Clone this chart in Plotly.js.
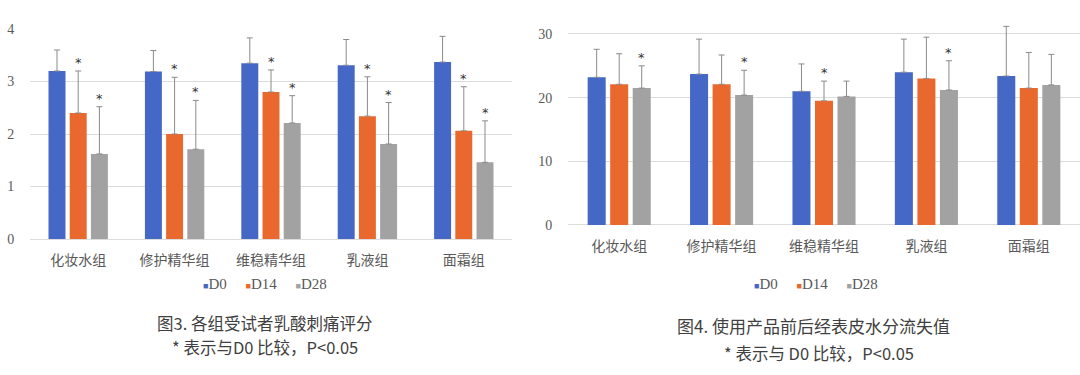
<!DOCTYPE html>
<html>
<head>
<meta charset="utf-8">
<script src="https://cdn.plot.ly/plotly-3.0.1.min.js"></script>
<style>html,body{margin:0;padding:0;background:#fff;}#chart{width:1080px;height:375px;}</style>
</head>
<body>
<div id="chart"></div>
<script>
// ---- data ----
const categories = ['化妆水组', '修护精华组', '维稳精华组', '乳液组', '面霜组'];
const seriesNames = ['D0', 'D14', 'D28'];

// Fig 3: lactic acid sting score
const stingD0 = [3.20, 3.19, 3.35, 3.31, 3.37];
const stingD14 = [2.40, 2.00, 2.80, 2.34, 2.06];
const stingD28 = [1.62, 1.71, 2.21, 1.81, 1.46];
const stingErrD0 = [0.40, 0.40, 0.48, 0.49, 0.49];
const stingErrD14 = [0.80, 1.08, 0.42, 0.75, 0.84];
const stingErrD28 = [0.90, 0.93, 0.52, 0.79, 0.79];
const stingSigD0 = [false, false, false, false, false];
const stingSigD14 = [true, true, true, true, true];
const stingSigD28 = [true, true, true, true, true];

// Fig 4: TEWL
const tewlD0 = [23.2, 23.7, 21.0, 24.0, 23.4];
const tewlD14 = [22.1, 22.1, 19.5, 23.0, 21.5];
const tewlD28 = [21.5, 20.4, 20.2, 21.2, 22.0];
const tewlErrD0 = [4.4, 5.5, 4.3, 5.2, 7.8];
const tewlErrD14 = [4.8, 4.6, 3.1, 6.5, 5.6];
const tewlErrD28 = [3.5, 3.9, 2.4, 4.6, 4.8];
const tewlSigD0 = [false, false, false, false, false];
const tewlSigD14 = [false, false, true, false, false];
const tewlSigD28 = [true, true, false, true, false];

const stingTicks = [0, 1, 2, 3, 4];
const tewlTicks = [0, 10, 20, 30];

const caption3 = '图3. 各组受试者乳酸刺痛评分';
const caption4 = '图4. 使用产品前后经表皮水分流失值';
const note = '* 表示与D0 比较，P<0.05';
const note4 = '* 表示与 D0 比较，P<0.05';

// ---- styling ----
const colors = ['#4567c6', '#e8682d', '#a2a2a2'];
const errColor = '#8a8a8a';
const gridColor = '#dcdcdc';
const textColor = '#595959';
const serif = 'Liberation Serif, Times New Roman, serif';
const cjk = 'Noto Sans CJK SC, sans-serif';
const bargap = 0.34;

const stingVals = [stingD0, stingD14, stingD28];
const stingErrs = [stingErrD0, stingErrD14, stingErrD28];
const stingSigs = [stingSigD0, stingSigD14, stingSigD28];
const tewlVals = [tewlD0, tewlD14, tewlD28];
const tewlErrs = [tewlErrD0, tewlErrD14, tewlErrD28];
const tewlSigs = [tewlSigD0, tewlSigD14, tewlSigD28];

const traces = [];
const annotations = [];
const slot = (1 - bargap) / 3;

function addChart(vals, errs, sigs, xa, ya) {
  vals.forEach((v, k) => {
    traces.push({
      type: 'bar', x: categories, y: v, name: seriesNames[k],
      xaxis: xa, yaxis: ya, showlegend: false,
      marker: {color: colors[k], line: {width: 0}},
      error_y: {type: 'data', array: errs[k], arrayminus: errs[k].map(() => 0), symmetric: false,
                color: errColor, thickness: 1, width: 3},
      hoverinfo: 'none'
    });
    v.forEach((val, i) => {
      if (sigs[k][i]) {
        annotations.push({
          xref: xa, yref: ya, x: i + (k - 1) * slot, y: val + errs[k][i],
          text: '*', showarrow: false, yanchor: 'bottom', yshift: -1,
          font: {family: 'DejaVu Sans, sans-serif', size: 13, color: '#333'}
        });
      }
    });
  });
}
addChart(stingVals, stingErrs, stingSigs, 'x', 'y');
addChart(tewlVals, tewlErrs, tewlSigs, 'x2', 'y2');

function legendText() {
  return seriesNames.map((n, k) =>
    `<span style="color:${colors[k]};font-size:9px">■</span>${n}`).join('&nbsp;&nbsp;&nbsp;&nbsp;&nbsp;');
}
const legFont = {family: serif, size: 15, color: textColor};
annotations.push({xref: 'paper', yref: 'paper', x: 265 / 1080, y: 1 - 284 / 375, text: legendText(),
  showarrow: false, xanchor: 'center', yanchor: 'middle', font: legFont});
annotations.push({xref: 'paper', yref: 'paper', x: 816 / 1080, y: 1 - 284 / 375, text: legendText(),
  showarrow: false, xanchor: 'center', yanchor: 'middle', font: legFont});

const capFont = {family: cjk, size: 16.5, color: '#404040'};
const capFont4 = {family: cjk, size: 17, color: '#404040'};
annotations.push({xref: 'paper', yref: 'paper', x: 264 / 1080, y: 1 - 323 / 375, text: caption3,
  showarrow: false, xanchor: 'center', yanchor: 'middle', font: capFont});
annotations.push({xref: 'paper', yref: 'paper', x: 265 / 1080, y: 1 - 347 / 375, text: note,
  showarrow: false, xanchor: 'center', yanchor: 'middle', font: capFont});
annotations.push({xref: 'paper', yref: 'paper', x: 813 / 1080, y: 1 - 325 / 375, text: caption4,
  showarrow: false, xanchor: 'center', yanchor: 'middle', font: capFont4});
annotations.push({xref: 'paper', yref: 'paper', x: 819 / 1080, y: 1 - 353 / 375, text: note4,
  showarrow: false, xanchor: 'center', yanchor: 'middle', font: capFont});

const xCommon = {
  type: 'category', showgrid: false, showline: false, zeroline: false,
  ticks: 'outside', ticklen: 8, tickcolor: 'rgba(0,0,0,0)',
  tickfont: {family: cjk, size: 14, color: textColor}, fixedrange: true
};
const yCommon = {
  showgrid: true, gridcolor: gridColor, gridwidth: 1, zeroline: true, zerolinecolor: gridColor,
  showline: false, ticks: 'outside', ticklen: 12, tickcolor: 'rgba(0,0,0,0)',
  tickfont: {family: serif, size: 14, color: textColor}, tickmode: 'array', fixedrange: true
};

const layout = {
  width: 1080, height: 375,
  margin: {l: 0, r: 0, t: 0, b: 0},
  paper_bgcolor: '#fff', plot_bgcolor: '#fff',
  barmode: 'group', bargap: bargap, bargroupgap: 0.2,
  showlegend: false,
  xaxis: Object.assign({}, xCommon, {domain: [30 / 1080, 512 / 1080], anchor: 'y'}),
  yaxis: Object.assign({}, yCommon, {domain: [136 / 375, 346 / 375], range: [0, 4], tickvals: stingTicks, anchor: 'x'}),
  xaxis2: Object.assign({}, xCommon, {domain: [568 / 1080, 1], anchor: 'y2'}),
  yaxis2: Object.assign({}, yCommon, {domain: [150 / 375, (150 + 32 * 191 / 30) / 375], range: [0, 32], tickvals: tewlTicks, anchor: 'x2'}),
  annotations: annotations
};

Plotly.newPlot('chart', traces, layout, {staticPlot: true, displayModeBar: false});
</script>
</body>
</html>
